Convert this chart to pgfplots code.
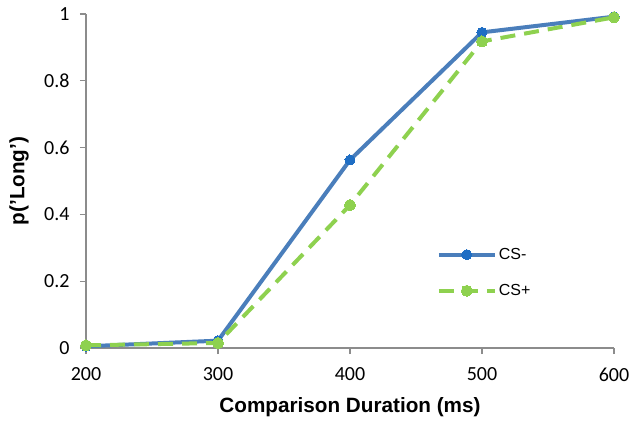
\documentclass[border=0pt]{standalone}
\usepackage{pgfplots}
\pgfplotsset{compat=1.18}
\usepackage{fontspec}
\setmainfont{Liberation Sans}
\newfontfamily\calibri{Carlito}
\definecolor{csblue}{HTML}{4A7EBB}
\definecolor{csbluemark}{HTML}{1F6EC4}
\definecolor{csgreen}{HTML}{8ED14F}
\definecolor{axgray}{HTML}{8C8C8C}
\begin{document}
\begin{tikzpicture}
\path[use as bounding box] (-86bp,-77bp) rectangle (553bp,348bp);
\begin{axis}[
  at={(0,0)}, anchor=south west,
  scale only axis, width=528bp, height=334bp,
  xmin=200, xmax=600, ymin=0, ymax=1,
  xtick={200,300,400,500,600},
  ytick={0,0.2,0.4,0.6,0.8,1},
  axis x line*=bottom, axis y line*=left,
  axis line style={axgray, line width=1.2bp, -},
  tick style={axgray, line width=1.2bp},
  tick align=outside, major tick length=6bp,
  minor tick num=0,
  /pgf/number format/assume math mode=true,
  ticklabel style={font=\calibri\fontsize{20bp}{22bp}\selectfont, text=black},
  yticklabel style={xshift=-7bp},
  xticklabel style={yshift=-10bp},
  xlabel={\textbf{Comparison Duration (ms)}},
  ylabel={\textbf{p('Long')}},
  label style={font=\fontsize{20.7bp}{22bp}\selectfont},
  xlabel style={at={(0.5,0)}, anchor=base, yshift=-64bp},
  ylabel style={at={(0,0.5)}, anchor=center, yshift=67bp},
  legend style={at={(0.664,0.305)}, anchor=north west, draw=none, fill=none,
    font=\fontsize{16bp}{18bp}\selectfont, row sep=19.5bp,
    inner sep=0pt, cells={anchor=west}},
  legend image code/.code={\draw[mark repeat=2,mark phase=2,#1] plot coordinates {(0bp,0bp) (28bp,0bp) (56bp,0bp)};},
]
\addplot[color=csblue, line width=4bp, mark=*, mark size=5bp,
  mark options={solid, fill=csbluemark, draw=csbluemark, line width=0pt}]
  coordinates {(200,0.005) (300,0.022) (400,0.563) (500,0.945) (600,0.992)};
\addlegendentry{CS-}
\addplot[color=csgreen, line width=4bp, dash pattern=on 15bp off 9bp, mark=*, mark size=5.5bp,
  mark options={solid, fill=csgreen, draw=csgreen, line width=0pt}]
  coordinates {(200,0.008) (300,0.015) (400,0.428) (500,0.918) (600,0.99)};
\addlegendentry{CS+}
\end{axis}
\end{tikzpicture}
\end{document}
